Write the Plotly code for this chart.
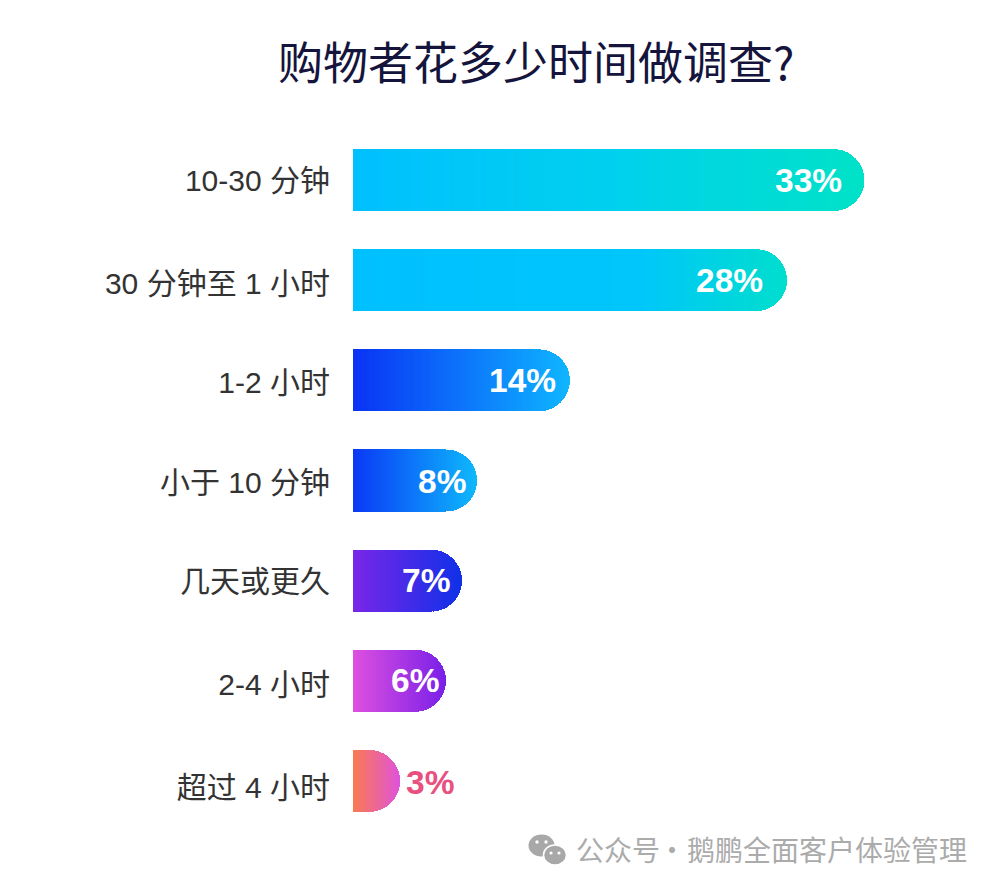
import plotly.graph_objects as go

CATEGORIES = ["10-30 分钟", "30 分钟至 1 小时", "1-2 小时", "小于 10 分钟", "几天或更久", "2-4 小时", "超过 4 小时"]
VALUES = [33, 28, 14, 8, 7, 6, 3]
VALUE_LABELS = ["33%", "28%", "14%", "8%", "7%", "6%", "3%"]
TITLE = "购物者花多少时间做调查?"
WATERMARK_PARTS = ["公众号", "·", "鹅鹏全面客户体验管理"]

# gradient stops per bar: (position, rgb)
GRADIENTS = [
    [(0, (0, 192, 255)), (0.5, (0, 208, 238)), (1, (0, 226, 200))],
    [(0, (0, 192, 255)), (0.65, (0, 198, 252)), (1, (0, 222, 205))],
    [(0, (10, 50, 245)), (1, (14, 182, 255))],
    [(0, (10, 56, 245)), (1, (14, 184, 252))],
    [(0, (122, 38, 232)), (1, (16, 48, 232))],
    [(0, (222, 80, 224)), (1, (122, 32, 232))],
    [(0, (250, 122, 80)), (1, (224, 84, 216))],
]
LABEL_SHIFT = [-21, -22, -12, -9, -10, -5, 56]
LABEL_YSHIFT = [0, 0, 0, -1, 0, 0, -2]
TICK_YSHIFT = [0, 3, 2, 2, 1, 4, 7]
LABEL_COLOR = ["#ffffff"] * 6 + ["#e8507f"]
N = 80

def lerp_color(stops, t):
    for (p0, c0), (p1, c1) in zip(stops, stops[1:]):
        if t <= p1:
            f = (t - p0) / (p1 - p0)
            return "rgb(%d,%d,%d)" % tuple(round(a + (b - a) * f) for a, b in zip(c0, c1))
    return "rgb(%d,%d,%d)" % stops[-1][1]

W, H = 1000, 890
ML, MR, MT, MB = 353, 27, 130, 59
PW, PH = W - ML - MR, H - MT - MB
px = lambda x: (x - ML) / PW
py = lambda y: (H - MB - y) / PH
ROW = list(range(len(CATEGORIES)))
ROW_PX = PH / len(CATEGORIES)

fig = go.Figure()
for j in range(N):
    t = (j + 0.5) / N
    fig.add_trace(go.Bar(
        y=ROW, x=[v / N for v in VALUES], orientation="h",
        marker=dict(color=[lerp_color(g, t) for g in GRADIENTS], line=dict(width=0)),
        hovertext=CATEGORIES, hoverinfo="skip", showlegend=False,
    ))

FONT = "Liberation Sans, Noto Sans CJK SC, sans-serif"
annotations = [
    dict(x=v, y=r, xref="x", yref="y", text=l, showarrow=False, xanchor="right", yanchor="middle",
         xshift=s, yshift=ys, font=dict(family="Liberation Sans", size=33.5, color=col, weight="bold"))
    for v, r, l, s, ys, col in zip(VALUES, ROW, VALUE_LABELS, LABEL_SHIFT, LABEL_YSHIFT, LABEL_COLOR)
]

annotations.append(dict(x=px(536), y=py(60), xref="paper", yref="paper", text=TITLE, showarrow=False,
                        xanchor="center", yanchor="middle",
                        font=dict(family="Noto Sans CJK SC", size=45, color="#14143c")))
for part, x, anchor, size in zip(WATERMARK_PARTS, [574, 672, 969], ["left", "center", "right"], [28, 28, 28]):
    annotations.append(dict(x=px(x), y=py(849), xref="paper", yref="paper", text=part, showarrow=False,
                            xanchor=anchor, yanchor="middle",
                            font=dict(family="Noto Sans CJK SC", size=size, color="#ababab")))

def ell(x, y, rx, ry, fill, line=None):
    return dict(type="circle", xref="paper", yref="paper", x0=px(x - rx), x1=px(x + rx), y0=py(y + ry), y1=py(y - ry),
                fillcolor=fill, line=dict(width=1.5 if line else 0, color=line or fill))

shapes = [
    ell(541.5, 845.5, 13, 11, "#a8a8a8"),
    ell(555, 855, 11.5, 10, "#a8a8a8", "#ffffff"),
    ell(537, 842, 1.7, 1.7, "#ffffff"), ell(546, 842, 1.7, 1.7, "#ffffff"),
    ell(551, 853, 1.6, 1.6, "#ffffff"), ell(559, 853, 1.6, 1.6, "#ffffff"),
]

fig.update_layout(
    width=W, height=H, margin=dict(l=ML, r=MR, t=MT, b=MB, pad=0),
    paper_bgcolor="#ffffff", plot_bgcolor="#ffffff",
    barmode="stack", bargap=0.38, barcornerradius=31,
    xaxis=dict(range=[0, 40], visible=False, fixedrange=True),
    yaxis=dict(range=[6.5, -0.5], showgrid=False, zeroline=False, showline=False, ticks="outside", ticklen=16,
               tickmode="array", tickvals=[r + s / ROW_PX for r, s in zip(ROW, TICK_YSHIFT)], ticktext=CATEGORIES,
               tickcolor="rgba(0,0,0,0)", tickfont=dict(family=FONT, size=30, color="#333333"), fixedrange=True),
    annotations=annotations, shapes=shapes, showlegend=False,
)
fig.write_html("out.html", config=dict(displayModeBar=False),
               post_script="document.body.style.margin='0';")
